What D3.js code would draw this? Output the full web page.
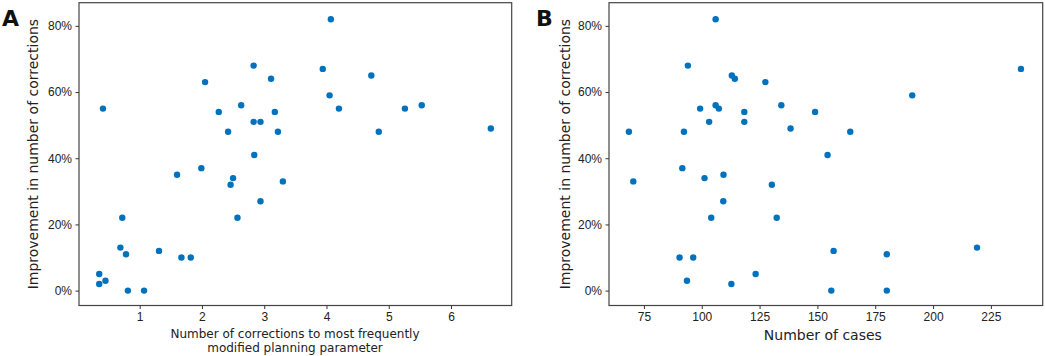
<!doctype html>
<html lang="en">
<head>
<meta charset="UTF-8">
<title>Improvement scatter</title>
<style>
  body { margin: 0; background: #fff; }
  svg { font-family: "DejaVu Sans", sans-serif; }
  .axis path, .axis line { stroke: #333; }
  .tick text { font-size: 12px; fill: #222; }
  .frame { fill: none; stroke: #444; stroke-width: 1.2px; }
  .dot { fill: #0072bd; }
</style>
</head>
<body>
<script src="https://d3js.org/d3.v7.min.js"></script>
<script>
// panel A: corrections to most frequently modified parameter vs improvement
var corrA = [0.41, 4.07, 2.83, 3.94, 4.72, 2.05, 3.11, 4.05, 2.63, 4.20, 5.26, 5.53, 2.27, 3.17,
             2.83, 2.94, 2.42, 3.22, 4.84, 6.64, 2.84, 1.99, 1.60, 2.50, 3.30, 2.46, 2.94, 0.72,
             2.57, 0.69, 0.78, 1.31, 1.67, 1.82, 0.35, 0.35, 0.45, 0.81, 1.07];
var improvA = [0.55, 0.82, 0.68, 0.67, 0.65, 0.63, 0.64, 0.59, 0.56, 0.55, 0.55, 0.56, 0.54, 0.54,
               0.51, 0.51, 0.48, 0.48, 0.48, 0.49, 0.41, 0.37, 0.35, 0.34, 0.33, 0.32, 0.27, 0.22,
               0.22, 0.13, 0.11, 0.12, 0.10, 0.10, 0.05, 0.02, 0.03, 0.00, 0.00];

// panel B: number of cases vs improvement
var casesB = [106, 94, 238, 113, 114.3, 127.5, 191, 106, 107.4, 99.3, 134.4, 118.4, 149, 103.2,
              118.4, 138.4, 68.5, 92.3, 164.2, 154.4, 91.6, 109.4, 101.2, 70.4, 130.3, 109.3, 104.1,
              132.4, 219, 157, 180, 90.4, 96.3, 123.3, 93.6, 112.8, 156, 180];
var improvB = [0.82, 0.68, 0.67, 0.65, 0.64, 0.63, 0.59, 0.56, 0.55, 0.55, 0.56, 0.54, 0.54, 0.51,
               0.51, 0.49, 0.48, 0.48, 0.48, 0.41, 0.37, 0.35, 0.34, 0.33, 0.32, 0.27, 0.22,
               0.22, 0.13, 0.12, 0.11, 0.10, 0.10, 0.05, 0.03, 0.02, 0.00, 0.00];

var yTicks = [0, 0.2, 0.4, 0.6, 0.8];
var xTicksA = [1, 2, 3, 4, 5, 6];
var xTicksB = [75, 100, 125, 150, 175, 200, 225];

var W = 1045, H = 356;
var plotTop = 2.7, plotBottom = 305.5;

var svg = d3.select("body").append("svg")
    .attr("width", W)
    .attr("height", H);

var yScale = d3.scaleLinear().domain([-0.045, 0.87]).range([plotBottom, plotTop]);

function panel(opts) {
  var x = d3.scaleLinear().domain(opts.xDomain).range([opts.left, opts.right]);
  var g = svg.append("g");

  g.append("g")
      .attr("class", "x axis")
      .attr("transform", "translate(0," + plotBottom + ")")
      .call(d3.axisBottom(x).tickValues(opts.xTicks).tickSizeInner(3.5).tickSizeOuter(0).tickPadding(3.5)
        .tickFormat(d3.format("d")))
      .call(function(a) { a.select(".domain").remove(); });

  g.append("g")
      .attr("class", "y axis")
      .attr("transform", "translate(" + opts.left + ",0)")
      .call(d3.axisLeft(yScale).tickValues(yTicks).tickSizeInner(3.5).tickSizeOuter(0).tickPadding(3.5)
        .tickFormat(d3.format(".0%")))
      .call(function(a) { a.select(".domain").remove(); });

  g.append("rect")
      .attr("class", "frame")
      .attr("x", opts.left)
      .attr("y", plotTop)
      .attr("width", opts.right - opts.left)
      .attr("height", plotBottom - plotTop);

  g.selectAll(".dot")
      .data(opts.xs)
    .enter().append("circle")
      .attr("class", "dot")
      .attr("cx", function(d) { return x(d); })
      .attr("cy", function(d, i) { return yScale(opts.ys[i]); })
      .attr("r", 3.2);

  g.append("text")
      .attr("transform", "translate(" + opts.yLabelX + "," + ((plotTop + plotBottom) / 2) + ") rotate(-90)")
      .attr("text-anchor", "middle")
      .attr("dominant-baseline", "central")
      .style("font-size", "14px")
      .style("fill", "#222")
      .text("Improvement in number of corrections");

  g.append("text")
      .attr("x", opts.letterX)
      .attr("y", 26)
      .style("font-size", "22px")
      .style("font-weight", "bold")
      .style("fill", "#111")
      .text(opts.letter);

  return x;
}

var xA = panel({ left: 79, right: 511.7, xDomain: [0.025, 6.975], xTicks: xTicksA,
                 xs: corrA, ys: improvA, yLabelX: 33, letter: "A", letterX: 2 });
var xB = panel({ left: 609, right: 1042.7, xDomain: [59.9, 247.4], xTicks: xTicksB,
                 xs: casesB, ys: improvB, yLabelX: 565, letter: "B", letterX: 536 });

svg.append("text")
    .attr("x", 295).attr("y", 338)
    .attr("text-anchor", "middle")
    .style("font-size", "12px").style("fill", "#222")
    .text("Number of corrections to most frequently");
svg.append("text")
    .attr("x", 295).attr("y", 352)
    .attr("text-anchor", "middle")
    .style("font-size", "12px").style("fill", "#222")
    .text("modified planning parameter");

svg.append("text")
    .attr("x", (609 + 1042.7) / 2 - 3).attr("y", 340)
    .attr("text-anchor", "middle")
    .style("font-size", "14px").style("fill", "#222")
    .text("Number of cases");
</script>
</body>
</html>
